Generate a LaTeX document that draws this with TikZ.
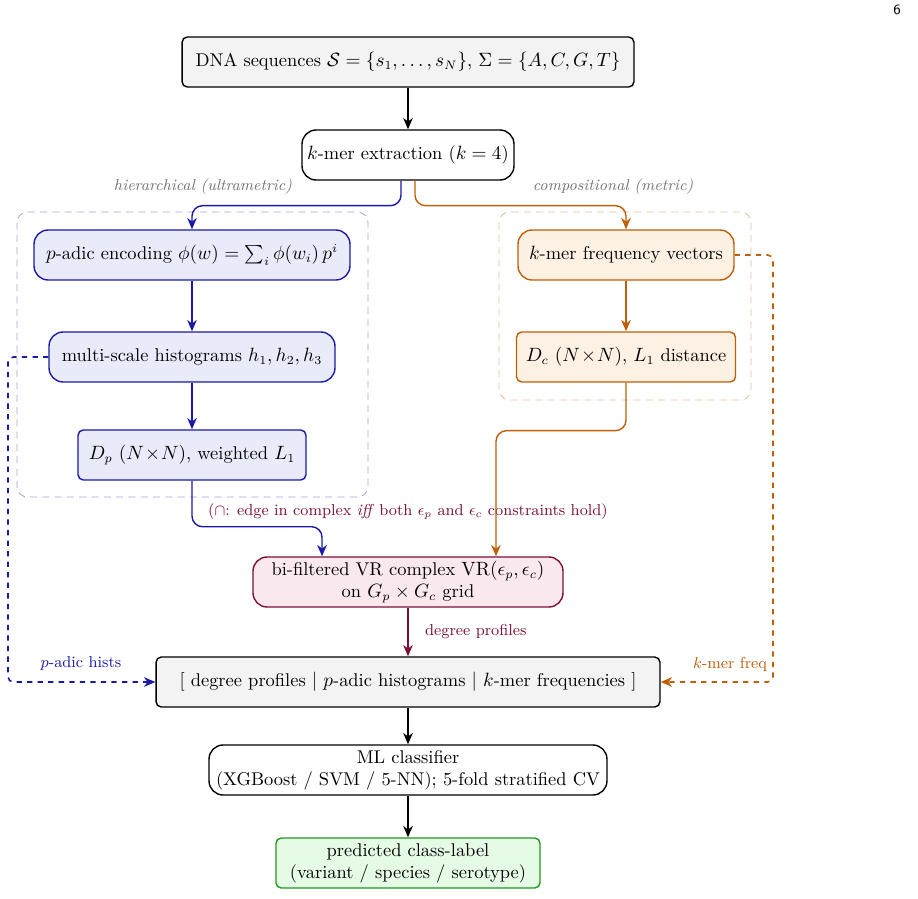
\documentclass[tikz,border=0pt]{standalone}
\usepackage{amsmath,amssymb}
\usetikzlibrary{arrows.meta}

\begin{document}
\begin{tikzpicture}[x=0.02cm,y=-0.02cm,
  font=\fontsize{10.5}{12.5}\selectfont,
  box/.style={draw,line width=0.8pt,rounded corners=3pt,align=center,
    inner sep=0pt,minimum height=1cm},
  flow/.style={-{Stealth[length=6.5pt,width=5.5pt]},line width=0.8pt,rounded corners=6pt},
  link/.style={-{Stealth[length=6.5pt,width=5.5pt]},line width=0.9pt,dashed,rounded corners=3pt},
  group/.style={line width=0.5pt,dash pattern=on 4pt off 3pt,rounded corners=6pt},
  route/.style={font=\small\itshape,text=black!55}]
\definecolor{hierLine}{HTML}{1A1AA6}
\definecolor{hierFill}{HTML}{E9EBFB}
\definecolor{compLine}{HTML}{BF5F0A}
\definecolor{compFill}{HTML}{FDF1E3}
\definecolor{bifLine}{HTML}{7D0F3A}
\definecolor{bifFill}{HTML}{F9E8EE}
\definecolor{outLine}{HTML}{1E9A1E}
\definecolor{outFill}{HTML}{E6FBE6}
\definecolor{featFill}{HTML}{F3F3F3}
\useasboundingbox (0,0) rectangle (918,898);
% page number
\node[font=\sffamily\footnotesize] (page) at (897,10) {6};
% groups
\draw[group,hierLine!40] (17,212) rectangle (368,497);
\draw[group,compLine!40] (499,212) rectangle (751,400);
% pipeline boxes
\node[box,fill=featFill,minimum width=9.04cm] (seqs) at (408,62)
  {DNA sequences $\mathcal{S}=\{s_1,\dots,s_N\}$,\ $\Sigma=\{A,C,G,T\}$};
\node[box,rounded corners=8pt,fill=white,minimum width=4.24cm] (kmer) at (408,155)
  {$k$-mer extraction ($k=4$)};
\node[box,draw=hierLine,fill=hierFill,rounded corners=8pt,minimum width=6.32cm] (padic) at (192,255)
  {$p$-adic encoding $\phi(w)=\sum_i \phi(w_i)\,p^i$};
\node[box,draw=hierLine,fill=hierFill,rounded corners=8pt,minimum width=5.72cm] (hist) at (192,357)
  {multi-scale histograms $h_1,h_2,h_3$};
\node[box,draw=hierLine,fill=hierFill,minimum width=4.56cm] (Dp) at (192,455)
  {$D_p$ $(N\!\times\!N)$, weighted $L_1$};
\node[box,draw=compLine,fill=compFill,rounded corners=8pt,minimum width=4.32cm] (freq) at (626,255)
  {$k$-mer frequency vectors};
\node[box,draw=compLine,fill=compFill,minimum width=4.38cm] (Dc) at (626,357)
  {$D_c$ $(N\!\times\!N)$, $L_1$ distance};
\node[box,draw=bifLine,fill=bifFill,rounded corners=8pt,minimum width=6.2cm] (vr) at (408,582)
  {bi-filtered VR complex $\mathrm{VR}(\epsilon_p,\epsilon_c)$\\ on $G_p\times G_c$ grid};
\node[box,fill=featFill,minimum width=10.08cm] (feat) at (408,682)
  {[ degree profiles $|$ $p$-adic histograms $|$ $k$-mer frequencies ]};
\node[box,rounded corners=8pt,fill=white,minimum width=7.96cm] (clf) at (408,770)
  {ML classifier\\ (XGBoost / SVM / 5-NN); 5-fold stratified CV};
\node[box,draw=outLine,fill=outFill,minimum width=5.28cm] (pred) at (408,863)
  {predicted class-label\\ (variant / species / serotype)};
% labels
\node[route] (hierlab) at (203,187) {hierarchical (ultrametric)};
\node[route] (complab) at (613,187) {compositional (metric)};
\node[text=bifLine,font=\small] (caplab) at (408,512)
  {($\cap$: edge in complex \emph{iff} both $\epsilon_p$ and $\epsilon_c$ constraints hold)};
\node[text=bifLine,font=\small,anchor=west] (deglab) at (419,632) {degree profiles};
\node[text=hierLine,font=\small] (hlab) at (81,664) {$p$-adic hists};
\node[text=compLine,font=\small] (klab) at (730,664) {$k$-mer freq};
\coordinate (hturn) at (8,357);
\coordinate (kturn) at (773,255);
% connectors
\draw[flow] (seqs) -- (kmer);
\draw[flow,hierLine] ([xshift=-0.14cm]kmer.south) -- ++(0,25) -| (padic.north);
\draw[flow,compLine] ([xshift=0.14cm]kmer.south) -- ++(0,25) -| (freq.north);
\draw[flow,hierLine] (padic) -- (hist);
\draw[flow,hierLine] (hist) -- (Dp);
\draw[flow,compLine] (freq) -- (Dc);
\draw[flow,hierLine] (Dp.south) -- ++(0,46) -| ([xshift=-1.72cm]vr.north);
\draw[flow,compLine] (Dc.south) -- ++(0,48) -| ([xshift=1.76cm]vr.north);
\draw[flow,bifLine] (vr) -- (feat);
\draw[link,hierLine] (hist.west) -- (hturn) |- (feat.west);
\draw[link,compLine] (freq.east) -- (kturn) |- (feat.east);
\draw[flow] (feat) -- (clf);
\draw[flow] (clf) -- (pred);
\end{tikzpicture}
\end{document}
